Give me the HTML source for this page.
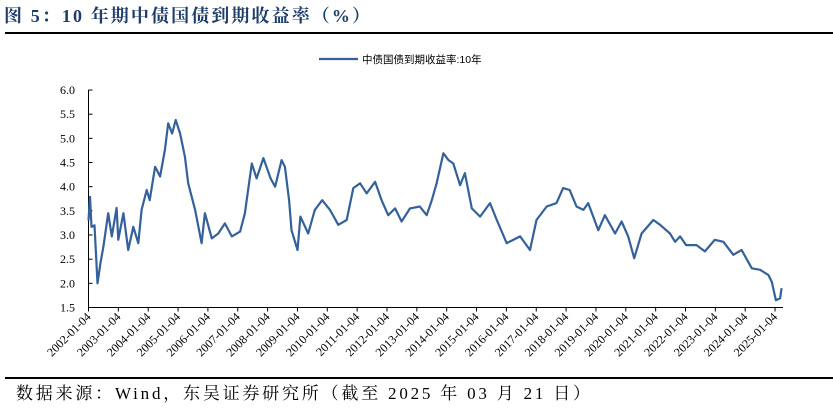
<!DOCTYPE html>
<html><head><meta charset="utf-8"><style>
body{margin:0;background:#fff;width:833px;height:411px;overflow:hidden}
svg{display:block}
</style></head><body>
<svg id="c" width="833" height="411" xmlns="http://www.w3.org/2000/svg">
<text x="4" y="22" textLength="366" lengthAdjust="spacing" font-family="'Liberation Serif','Noto Serif CJK SC',serif" font-size="18" font-weight="bold" fill="#1f3d6b">图 5：10 年期中债国债到期收益率（%）</text>
<line x1="5" y1="33" x2="833" y2="33" stroke="#000" stroke-width="2"/>
<line x1="5" y1="378" x2="833" y2="378" stroke="#000" stroke-width="2"/>
<text x="16" y="399" textLength="574" lengthAdjust="spacing" font-family="'Liberation Serif','Noto Serif CJK SC',serif" font-size="17" fill="#000">数据来源：Wind，东吴证券研究所（截至 2025 年 03 月 21 日）</text>
<g>
<line x1="319" y1="59" x2="358" y2="59" stroke="#35619a" stroke-width="2.2"/>
<text x="362" y="63" font-family="'Liberation Sans','Noto Sans CJK SC',sans-serif" font-size="10.5" fill="#000">中债国债到期收益率:10年</text>
</g>
<g id="axes"></g>
<g id="plot"></g>
</svg>
<script>
const tickLabels=["2002-01-04","2003-01-04","2004-01-04","2005-01-04","2006-01-04","2007-01-04","2008-01-04","2009-01-04","2010-01-04","2011-01-04","2012-01-04","2013-01-04","2014-01-04","2015-01-04","2016-01-04","2017-01-04","2018-01-04","2019-01-04","2020-01-04","2021-01-04","2022-01-04","2023-01-04","2024-01-04","2025-01-04"];
const yTicks=[1.5,2.0,2.5,3.0,3.5,4.0,4.5,5.0,5.5,6.0];
const dates=[2002.0,2002.05,2002.1,2002.2,2002.3,2002.4,2002.5,2002.66,2002.78,2002.94,2003.0,2003.17,2003.33,2003.5,2003.67,2003.78,2003.95,2004.05,2004.23,2004.4,2004.56,2004.67,2004.8,2004.92,2005.07,2005.23,2005.34,2005.57,2005.79,2005.9,2006.13,2006.35,2006.57,2006.8,2007.08,2007.24,2007.47,2007.63,2007.86,2008.1,2008.25,2008.47,2008.58,2008.72,2008.8,2009.0,2009.1,2009.36,2009.58,2009.83,2010.09,2010.37,2010.65,2010.87,2011.1,2011.32,2011.6,2011.82,2012.04,2012.27,2012.49,2012.77,2013.1,2013.33,2013.5,2013.66,2013.89,2014.06,2014.22,2014.45,2014.61,2014.84,2015.12,2015.45,2015.68,2016.01,2016.46,2016.79,2017.01,2017.35,2017.68,2017.9,2018.12,2018.35,2018.58,2018.74,2019.08,2019.3,2019.64,2019.86,2020.08,2020.28,2020.53,2020.92,2021.15,2021.48,2021.65,2021.82,2022.02,2022.37,2022.65,2022.98,2023.27,2023.6,2023.88,2024.22,2024.5,2024.78,2024.89,2025.03,2025.17,2025.22];
const yields=[3.3,3.79,3.17,3.2,2.0,2.41,2.76,3.45,2.97,3.56,2.9,3.45,2.69,3.17,2.83,3.52,3.93,3.72,4.41,4.21,4.76,5.31,5.1,5.38,5.1,4.62,4.07,3.52,2.83,3.45,2.93,3.03,3.24,2.97,3.07,3.45,4.48,4.17,4.59,4.17,4.0,4.55,4.41,3.72,3.1,2.69,3.38,3.03,3.52,3.72,3.52,3.21,3.31,3.97,4.07,3.86,4.1,3.72,3.41,3.55,3.28,3.55,3.59,3.41,3.72,4.07,4.69,4.55,4.48,4.03,4.28,3.55,3.38,3.66,3.31,2.83,2.97,2.69,3.31,3.59,3.66,3.97,3.93,3.59,3.52,3.66,3.1,3.41,3.03,3.28,2.97,2.52,3.03,3.31,3.21,3.03,2.86,2.97,2.79,2.79,2.66,2.9,2.86,2.59,2.69,2.31,2.28,2.17,2.03,1.65,1.69,1.9];
const NS="http://www.w3.org/2000/svg";
const X0=88.5,XS=29.85,Y0=90,YS=48.33;
function xs(t){return X0+(t-2002.0)*XS;}
function ys(v){return Y0+(6-v)*YS;}
const axes=document.getElementById('axes'),plot=document.getElementById('plot');
function mk(tag,attrs,parent){const e=document.createElementNS(NS,tag);for(const k in attrs)e.setAttribute(k,attrs[k]);parent.appendChild(e);return e;}
const ya=mk('line',{x1:X0,y1:ys(6),x2:X0,y2:ys(1.5),stroke:'#000','stroke-width':1},axes);


const xa=mk('line',{x1:X0,y1:ys(1.5),x2:783,y2:ys(1.5),stroke:'#000','stroke-width':1},axes);


yTicks.forEach(v=>{
  const tk=mk('line',{x1:X0,y1:ys(v),x2:X0+4,y2:ys(v),stroke:'#000'},axes);
  
  
  const t=mk('text',{x:75,y:ys(v)+4,'text-anchor':'end','font-family':"'Liberation Serif',serif",'font-size':12,fill:'#000'},axes);
  t.textContent=v.toFixed(1);
  
  
});
tickLabels.forEach((lab,i)=>{
  const x=xs(2002+i);
  const tk=mk('line',{x1:x,y1:ys(1.5),x2:x,y2:ys(1.5)+4,stroke:'#000'},axes);
  
  
  const t=mk('text',{x:x+3,y:ys(1.5)+10,'text-anchor':'end','font-family':"'Liberation Serif',serif",'font-size':12,fill:'#000',transform:`rotate(-45 ${x+3} ${ys(1.5)+10})`},axes);
  t.textContent=lab;
  
  
});
const d=dates.map((t,i)=>(i?'L':'M')+xs(t).toFixed(1)+' '+ys(yields[i]).toFixed(1)).join(' ');
const p=mk('path',{d:d,fill:'none',stroke:'#35619a','stroke-width':2.2,'stroke-linejoin':'round'},plot);


</script>
</body></html>
